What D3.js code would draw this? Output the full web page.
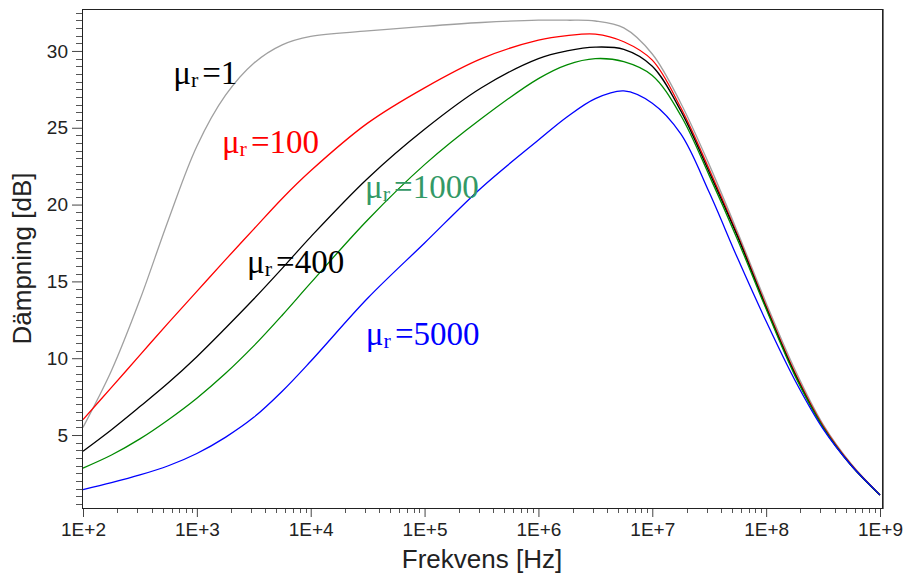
<!DOCTYPE html>
<html lang="sv">
<head>
    <meta charset="UTF-8">
    <title>Dämpning</title>
    <style>
        body, html {
            margin: 0;
            padding: 0;
            background-color: #fff;
        }
        svg { display: block; }
    </style>
</head>
<body>
    <svg id="svg" width="903" height="578"></svg>
    <script src="https://d3js.org/d3.v7.min.js"></script>
    <script>
        // frequency grid [Hz]
        const freq = [1e2, 1.78e2, 3.16e2, 5.62e2, 1e3, 1.78e3, 3.16e3, 5.62e3, 1e4, 3.16e4, 1e5, 3.16e5,
            1e6, 1.78e6, 3.16e6, 5.62e6, 1e7, 1.78e7, 3.16e7, 5.62e7, 1e8, 1.78e8, 3.16e8, 5.62e8, 1e9]

        // attenuation [dB] per permeability
        const mu1    = [5.5, 9.2, 13.8, 19.0, 23.8, 27.1, 29.2, 30.4, 30.95, 31.3, 31.6, 31.85,
            32.0, 32.0, 31.95, 31.5, 29.8, 26.6, 22.6, 18.2, 13.6, 9.3, 5.7, 3.1, 1.1]
        const mu100  = [6.0, 8.1, 10.2, 12.3, 14.35, 16.4, 18.4, 20.4, 22.2, 25.3, 27.6, 29.5,
            30.7, 31.0, 31.1, 30.6, 29.4, 26.3, 22.3, 18.0, 13.4, 9.1, 5.6, 3.05, 1.1]
        const mu400  = [3.95, 5.35, 6.85, 8.4, 10.1, 11.95, 13.85, 15.85, 17.9, 21.7, 24.9, 27.6,
            29.5, 30.0, 30.25, 30.1, 29.0, 26.1, 22.1, 17.9, 13.3, 9.0, 5.5, 3.0, 1.1]
        const mu1000 = [2.85, 3.7, 4.75, 6.0, 7.4, 9.0, 10.8, 12.8, 14.9, 19.0, 22.6, 25.6,
            28.2, 29.1, 29.5, 29.3, 28.4, 25.8, 21.9, 17.7, 13.2, 8.9, 5.5, 3.0, 1.1]
        const mu5000 = [1.45, 1.9, 2.4, 3.0, 3.8, 4.85, 6.15, 7.85, 9.8, 13.9, 17.5, 21.1,
            24.2, 25.7, 26.9, 27.4, 26.6, 24.6, 20.8, 16.5, 12.4, 8.6, 5.4, 3.0, 1.1]

        const series = [
            { name: '1', values: mu1, color: '#a0a0a0' },
            { name: '100', values: mu100, color: '#ff0000' },
            { name: '400', values: mu400, color: '#000000' },
            { name: '1000', values: mu1000, color: '#008a00' },
            { name: '5000', values: mu5000, color: '#0000ff' }
        ]

        // label text, colour, anchor (frequency, dB)
        const labels = [
            { text: '1', color: '#000000', f: 6.2e2, db: 27.85 },
            { text: '100', color: '#ff0000', f: 1.66e3, db: 23.36 },
            { text: '1000', color: '#339966', f: 3.0e4, db: 20.43 },
            { text: '400', color: '#000000', f: 2.76e3, db: 15.55 },
            { text: '5000', color: '#0000ff', f: 3.05e4, db: 10.86 }
        ]

        const yTicks = [5, 10, 15, 20, 25, 30]
        const xTicks = [1e2, 1e3, 1e4, 1e5, 1e6, 1e7, 1e8, 1e9]

        const plotLeft = 82, plotRight = 882, plotTop = 9, plotBottom = 508

        const x = d3.scaleLog().domain([1e2, 1e9]).range([83, 880])
        const y = d3.scaleLinear().domain([0.25, 32.73]).range([plotBottom, plotTop])

        const svg = d3.select('#svg')
        const sans = '"Liberation Sans", Arial, sans-serif'

        // minor ticks
        const yMinor = d3.range(0.5, 32.6, 0.5).filter(v => v % 5 !== 0)
        svg.append('g')
            .selectAll('line')
            .data(yMinor)
            .enter()
            .append('line')
            .attr('x1', plotLeft - 6).attr('x2', plotLeft)
            .attr('y1', d => Math.round(y(d)) + 0.5).attr('y2', d => Math.round(y(d)) + 0.5)
            .attr('stroke', '#555')

        const xMinor = []
        for (let e = 2; e < 9; e++) for (let m = 2; m <= 9; m++) xMinor.push(m * Math.pow(10, e))
        svg.append('g')
            .selectAll('line')
            .data(xMinor)
            .enter()
            .append('line')
            .attr('x1', d => Math.round(x(d)) + 0.5).attr('x2', d => Math.round(x(d)) + 0.5)
            .attr('y1', plotBottom).attr('y2', plotBottom + 5)
            .attr('stroke', '#555')

        // major axes
        const leftAxis = d3.axisLeft(y).tickValues(yTicks).tickSize(10).tickPadding(4)
            .tickFormat(d3.format('d'))
        svg.append('g')
            .attr('transform', `translate(${plotLeft}, 0)`)
            .call(leftAxis)
            .call(g => g.select('.domain').remove())
            .call(g => g.selectAll('line').attr('stroke', '#444'))
            .selectAll('text')
            .attr('font-family', sans)
            .attr('font-size', '19px')
            .attr('fill', '#222')

        const bottomAxis = d3.axisBottom(x).tickValues(xTicks).tickSize(9).tickPadding(6)
            .tickFormat(d => '1E+' + Math.round(Math.log10(d)))
        svg.append('g')
            .attr('transform', `translate(0, ${plotBottom})`)
            .call(bottomAxis)
            .call(g => g.select('.domain').remove())
            .call(g => g.selectAll('line').attr('stroke', '#444'))
            .selectAll('text')
            .attr('font-family', sans)
            .attr('font-size', '19px')
            .attr('fill', '#222')

        // curves
        const line = d3.line()
            .x((d, i) => x(freq[i]))
            .y(d => y(d))
            .curve(d3.curveCatmullRom.alpha(0.5))

        svg.append('g')
            .selectAll('path')
            .data(series)
            .enter()
            .append('path')
            .attr('d', d => line(d.values))
            .attr('fill', 'none')
            .attr('stroke', d => d.color)
            .attr('stroke-width', 1.3)

        // plot frame
        svg.append('rect')
            .attr('x', plotLeft + 0.5).attr('y', plotTop + 0.5)
            .attr('width', plotRight - plotLeft).attr('height', plotBottom - plotTop)
            .attr('fill', 'none')
            .attr('stroke', '#222')
        svg.append('line')
            .attr('x1', plotRight + 1.5).attr('x2', plotRight + 1.5)
            .attr('y1', plotTop).attr('y2', plotBottom + 1)
            .attr('stroke', '#777')

        // curve labels
        const lab = svg.append('g')
            .selectAll('text')
            .data(labels)
            .enter()
            .append('text')
            .attr('x', d => x(d.f))
            .attr('y', d => y(d.db))
            .attr('font-family', '"Liberation Serif", "Times New Roman", serif')
            .attr('font-size', '33px')
            .attr('fill', d => d.color)
        lab.append('tspan').text('\u03bc')
        lab.append('tspan').text('r').attr('font-size', '22px').attr('dy', 3)
        lab.append('tspan').text(d => '=' + d.text).attr('dx', 4).attr('dy', -3)

        // axis titles
        svg.append('text')
            .attr('x', (plotLeft + plotRight) / 2)
            .attr('y', 568)
            .attr('text-anchor', 'middle')
            .attr('font-family', sans)
            .attr('font-size', '26px')
            .attr('fill', '#222')
            .text('Frekvens [Hz]')

        svg.append('text')
            .attr('transform', `translate(31, ${(plotTop + plotBottom) / 2}) rotate(-90)`)
            .attr('text-anchor', 'middle')
            .attr('font-family', sans)
            .attr('font-size', '26px')
            .attr('fill', '#222')
            .text('Dämpning [dB]')
    </script>
</body>
</html>
